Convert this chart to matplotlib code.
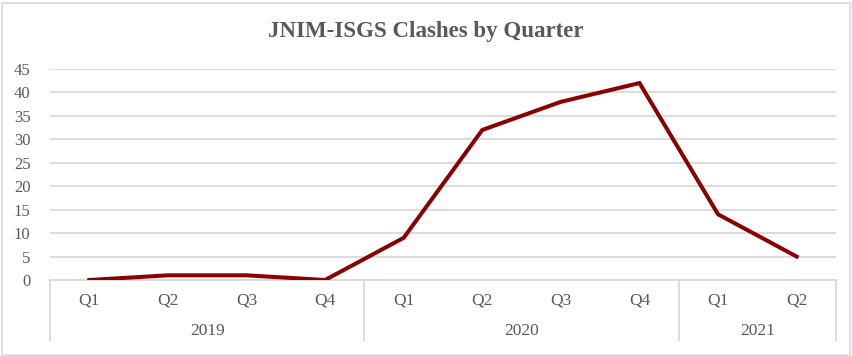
import matplotlib
matplotlib.use("Agg")
import matplotlib.pyplot as plt
from matplotlib.patches import Rectangle
import matplotlib.transforms as mtransforms

quarters = ["Q1", "Q2", "Q3", "Q4", "Q1", "Q2", "Q3", "Q4", "Q1", "Q2"]
years = ["2019", "2020", "2021"]
year_counts = [4, 4, 2]
clashes = [0, 1, 1, 0, 9, 32, 38, 42, 14, 5]
yticks = [0, 5, 10, 15, 20, 25, 30, 35, 40, 45]

plt.rcParams['font.family'] = ['Liberation Serif', 'DejaVu Serif']
W, H = 852, 356
fig = plt.figure(figsize=(W / 100, H / 100), dpi=100)
fig.patches.append(Rectangle((1.5 / W, 1.5 / H), (W - 4) / W, (H - 4) / H,
                             transform=fig.transFigure, fill=False,
                             edgecolor="#D9D9D9", linewidth=1.2))

left, right, top, bottom = 50, 836, 69, 280
ax = fig.add_axes([left / W, (H - bottom) / H, (right - left) / W, (bottom - top) / H])
ax.set_facecolor("none")

x = list(range(len(clashes)))
ax.plot(x, clashes, color="#8B0000", linewidth=2.9, solid_joinstyle="miter", zorder=3)

ax.set_xlim(-0.5, len(clashes) - 0.5)
ax.set_ylim(0, 45)
ax.set_yticks(yticks)
ax.set_yticklabels([str(v) for v in yticks], fontsize=12, color="#595959")
ax.tick_params(axis="y", length=0, pad=14)
ax.yaxis.grid(True, color="#D9D9D9", linewidth=1.3)
ax.set_axisbelow(True)
for s in ["top", "right", "left"]:
    ax.spines[s].set_visible(False)
ax.spines["bottom"].set_color("#D9D9D9")
ax.spines["bottom"].set_linewidth(1.3)

ax.set_xticks(x)
ax.set_xticklabels(quarters, fontsize=12.5, color="#595959")
ax.tick_params(axis="x", length=0, pad=9)

axh = bottom - top
trans = mtransforms.blended_transform_factory(ax.transData, ax.transAxes)
sep_depth = -(340 - bottom) / axh
bounds = [-0.5]
c = -0.5
for n in year_counts:
    c += n
    bounds.append(c)
for b in bounds:
    ax.plot([b, b], [0, sep_depth], transform=trans, color="#D9D9D9",
            linewidth=1.3, clip_on=False)
for i, yr in enumerate(years):
    mid = (bounds[i] + bounds[i + 1]) / 2
    ax.text(mid, -(331 - bottom) / axh, yr, transform=trans, ha="center",
            va="center", fontsize=12.5, color="#595959")

fig.text(0.5, 1 - 32 / H, "JNIM-ISGS Clashes by Quarter", ha="center", va="center",
         fontsize=16.5, fontweight="bold", color="#595959")

fig.savefig("out.png", dpi=100)
